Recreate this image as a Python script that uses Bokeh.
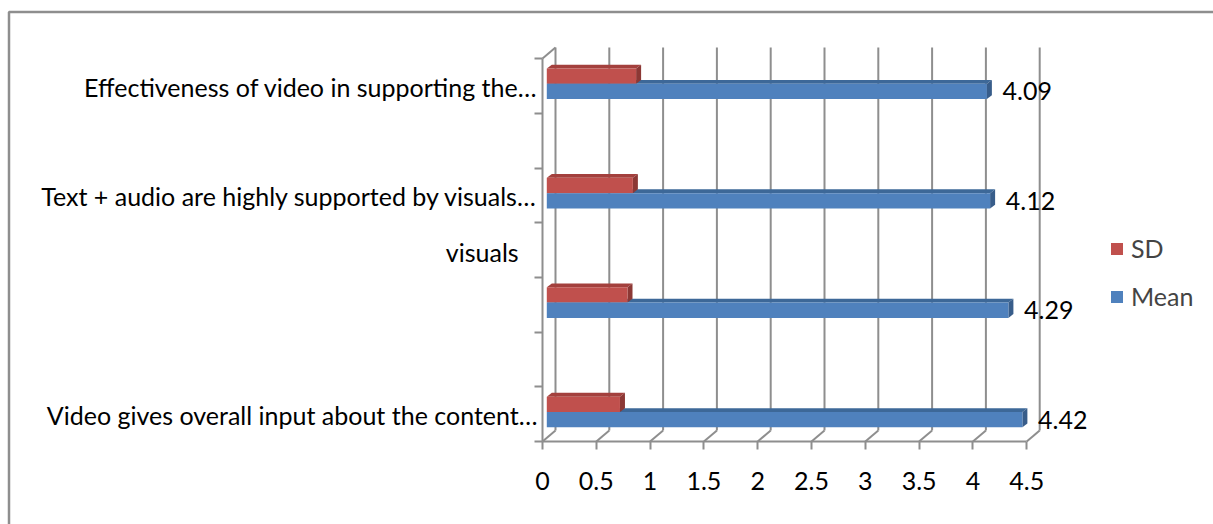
from bokeh.plotting import figure
from bokeh.models import (Range1d, FixedTicker, Legend, LegendItem, Label,
                          BoxAnnotation, ColumnDataSource, LinearAxis)
from bokeh.core.properties import value
from bokeh.embed import file_html
from bokeh.resources import INLINE

# ---- data -------------------------------------------------------------
categories = [
    "Video gives overall input about the content\u2026",
    "",
    "Text + audio are highly supported by visuals\u2026",
    "Effectiveness of video in supporting the\u2026",
]
extra_label = "visuals"
mean_values = [4.42, 4.29, 4.12, 4.09]
sd_values = [0.68, 0.75, 0.80, 0.83]
x_ticks = [0, 0.5, 1, 1.5, 2, 2.5, 3, 3.5, 4, 4.5]
x_tick_labels = ["0", "0.5", "1", "1.5", "2", "2.5", "3", "3.5", "4", "4.5"]

# ---- geometry / styling ----------------------------------------------
W, H = 1213, 524
FONT = "Lato"
FSIZE = "25px"
PX_X = 107.6          # pixels per value unit
PX_Y = 109.4          # pixels per category
ORIGIN_X, ORIGIN_Y = 542, 441   # canvas position of the value/category origin
GRID = "#8e8e8e"

# the frame covers the whole canvas; axes sit at a fixed location inside it
x_start, x_end = -ORIGIN_X / PX_X, (W - ORIGIN_X) / PX_X
y_start, y_end = -(H - ORIGIN_Y) / PX_Y, ORIGIN_Y / PX_Y

# depth of the back wall and of the bars (pixels -> data units)
wall_dx, wall_dy = 13 / PX_X, 11 / PX_Y
bar_x0 = 4.3 / PX_X
bar_dx, bar_dy = 5 / PX_X, 3.8 / PX_Y

BLUE, BLUE_TOP, BLUE_SIDE = "#4f81bd", "#3d6898", "#385d8a"
RED, RED_TOP, RED_SIDE = "#c0504d", "#a3403d", "#8c3835"

p = figure(width=W, height=H, output_backend="svg", toolbar_location=None,
           x_range=Range1d(x_start, x_end), y_range=Range1d(y_start, y_end),
           min_border=0, x_axis_location=None, y_axis_location=None)
p.outline_line_color = None
p.xgrid.visible = False
p.ygrid.visible = False
p.background_fill_color = "white"
p.border_fill_color = "white"

# ---- chart area border -------------------------------------------------------
p.add_layout(BoxAnnotation(left=(8.5 - ORIGIN_X) / PX_X, right=x_end + 1,
                           top=(ORIGIN_Y - 11.5) / PX_Y, bottom=y_start - 1,
                           fill_alpha=0, line_color=GRID, line_alpha=1,
                           line_width=2.5, level="underlay"))

# ---- back wall gridlines and floor diagonals ---------------------------
gx = [t + wall_dx for t in x_ticks]
p.segment(x0=gx, y0=[wall_dy] * len(gx), x1=gx, y1=[3.5 + wall_dy] * len(gx),
          line_color=GRID, line_width=2)
p.segment(x0=x_ticks, y0=[0] * len(x_ticks), x1=gx, y1=[wall_dy] * len(gx),
          line_color=GRID, line_width=2)
p.segment(x0=[0], y0=[3.5], x1=[wall_dx], y1=[3.5 + wall_dy],
          line_color=GRID, line_width=2)

# ---- 3D bars -------------------------------------------------------------
def bar_faces(values, lo, hi):
    front = dict(left=[], right=[], bottom=[], top=[])
    top_xs, top_ys, side_xs, side_ys = [], [], [], []
    for i, v in enumerate(values):
        l, r = bar_x0, bar_x0 + v
        b, t = i + lo, i + hi
        front["left"].append(l); front["right"].append(r)
        front["bottom"].append(b); front["top"].append(t)
        top_xs.append([l, r, r + bar_dx, l + bar_dx])
        top_ys.append([t, t, t + bar_dy, t + bar_dy])
        side_xs.append([r, r, r + bar_dx, r + bar_dx])
        side_ys.append([b, t, t + bar_dy, b + bar_dy])
    return front, (top_xs, top_ys), (side_xs, side_ys)

b_front, b_top, b_side = bar_faces(mean_values, 0.13, 0.27)
r_front, r_top, r_side = bar_faces(sd_values, 0.27, 0.41)

p.patches(xs=b_top[0], ys=b_top[1], fill_color=BLUE_TOP, line_color=None)
p.patches(xs=r_top[0], ys=r_top[1], fill_color=RED_TOP, line_color=None)
p.patches(xs=r_side[0], ys=r_side[1], fill_color=RED_SIDE, line_color=None)
red_r = p.quad(source=ColumnDataSource(r_front), left="left", right="right",
               bottom="bottom", top="top", fill_color=RED, line_color=None)
p.patches(xs=b_side[0], ys=b_side[1], fill_color=BLUE_SIDE, line_color=None)
blue_r = p.quad(source=ColumnDataSource(b_front), left="left", right="right",
                bottom="bottom", top="top", fill_color=BLUE, line_color=None)

# ---- value labels on the Mean bars ----------------------------------------
p.text(x=mean_values, y=[i + 0.20 for i in range(len(mean_values))],
       text=[f"{v:.2f}" for v in mean_values], x_offset=20,
       text_font=value(FONT), text_font_size=FSIZE, text_color="black",
       text_align="left", text_baseline="middle")

# ---- axes -------------------------------------------------------------------
xaxis = LinearAxis(ticker=FixedTicker(ticks=x_ticks), bounds=(0, 4.5),
                   fixed_location=0)
xaxis.major_label_overrides = {t: s for t, s in zip(x_ticks, x_tick_labels)}
xaxis.axis_line_color = GRID
xaxis.axis_line_width = 2
xaxis.major_tick_line_color = GRID
xaxis.major_tick_line_width = 2
xaxis.major_tick_out = 8
xaxis.major_tick_in = 0
xaxis.minor_tick_line_color = None
xaxis.major_label_standoff = 22
xaxis.major_label_text_font = FONT
xaxis.major_label_text_font_size = FSIZE
xaxis.major_label_text_color = "black"
p.add_layout(xaxis, "below")

cat_pos = [i + 0.24 for i in range(len(categories))]
yaxis = LinearAxis(ticker=FixedTicker(ticks=cat_pos,
                                      minor_ticks=[k * 0.5 for k in range(8)]),
                   bounds=(0, 3.5), fixed_location=0)
yaxis.major_label_overrides = {t: s for t, s in zip(cat_pos, categories)}
yaxis.axis_line_color = GRID
yaxis.axis_line_width = 2
yaxis.major_tick_line_color = None
yaxis.major_tick_out = 0
yaxis.major_tick_in = 0
yaxis.minor_tick_line_color = GRID
yaxis.minor_tick_line_width = 2
yaxis.minor_tick_out = 8
yaxis.minor_tick_in = 0
yaxis.major_label_standoff = -3
yaxis.major_label_text_font = FONT
yaxis.major_label_text_font_size = FSIZE
yaxis.major_label_text_color = "black"
p.add_layout(yaxis, "left")

# second line of a wrapped category label
p.add_layout(Label(x=-0.56, y=1.73, text=extra_label, text_font=FONT,
                   text_font_size=FSIZE, text_color="black",
                   text_align="center", text_baseline="middle"))

# ---- legend -----------------------------------------------------------------
legend = Legend(items=[LegendItem(label="SD", renderers=[red_r]),
                       LegendItem(label="Mean", renderers=[blue_r])],
                location=(1109, 213), orientation="vertical",
                glyph_width=15, glyph_height=15, label_standoff=7,
                spacing=18, padding=0, margin=0,
                label_text_font=FONT, label_text_font_size=FSIZE,
                border_line_color=None, background_fill_alpha=0)
p.add_layout(legend, "center")

open("out.html", "w").write(file_html(p, INLINE))
